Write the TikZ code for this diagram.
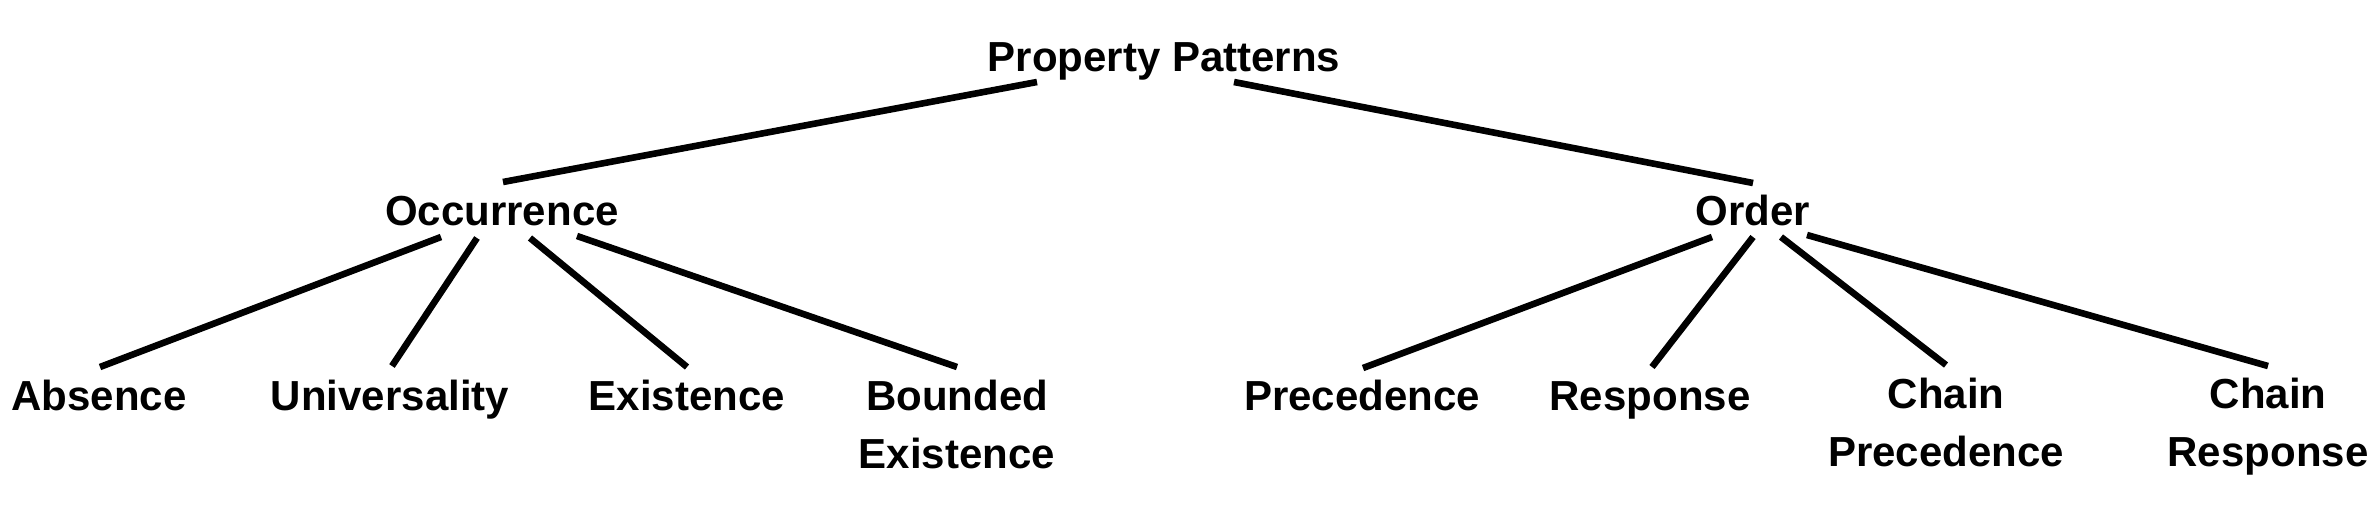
\documentclass[tikz,border=0pt]{standalone}
\usepackage{fontspec}
\setmainfont{Liberation Sans}
\usetikzlibrary{calc}
\tikzset{
  lbl/.style={inner sep=0pt, anchor=base, align=center,
    font=\fontsize{21}{29}\selectfont\bfseries},
  edge/.style={line width=3.3pt, black}
}
\begin{document}
\begin{tikzpicture}[x=0.5pt, y=-0.5pt]
\useasboundingbox (0,0) rectangle (2376,526);
% nodes (base anchor = baseline of last line)
\node[lbl] (root) at (1164,71) {Property Patterns};
\node[lbl] (occ) at (502,225) {Occurrence};
\node[lbl] (ord) at (1753,225) {Order};
\node[lbl] (abs) at (99,410) {Absence};
\node[lbl] (uni) at (390,410) {Universality};
\node[lbl] (ex) at (687,410) {Existence};
\node[lbl] (bex) at (957,468) {Bounded\\Existence};
\node[lbl] (pre) at (1362,410) {Precedence};
\node[lbl] (res) at (1650,410) {Response};
\node[lbl] (cpre) at (1946,466) {Chain\\Precedence};
\node[lbl] (cres) at (2268,466) {Chain\\Response};
% connectors
\draw[edge] ($(root.base)+(-127,11)$) -- ($(occ.base)+(1,-43)$);
\draw[edge] ($(root.base)+(70,11)$) -- ($(ord.base)+(0,-42)$);
\draw[edge] ($(occ.base)+(-61,12)$) -- ($(abs.base)+(1,-43)$);
\draw[edge] ($(occ.base)+(-25,13)$) -- ($(uni.base)+(2,-44)$);
\draw[edge] ($(occ.base)+(28,13)$) -- ($(ex.base)+(0,-43)$);
\draw[edge] ($(occ.base)+(75,11)$) -- ($(bex.base)+(0,-101)$);
\draw[edge] ($(ord.base)+(-41,12)$) -- ($(pre.base)+(1,-42)$);
\draw[edge] ($(ord.base)+(0,12)$) -- ($(res.base)+(2,-43)$);
\draw[edge] ($(ord.base)+(28,12)$) -- ($(cpre.base)+(0,-101)$);
\draw[edge] ($(ord.base)+(54,10)$) -- ($(cres.base)+(0,-100)$);
\end{tikzpicture}
\end{document}
